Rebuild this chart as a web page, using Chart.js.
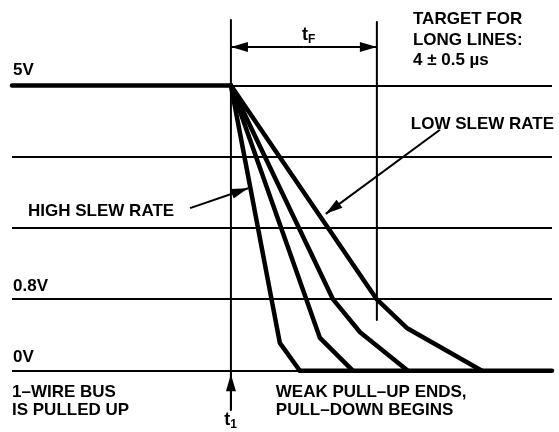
<!DOCTYPE html>
<html>
<head>
<meta charset="utf-8">
<script src="https://cdn.jsdelivr.net/npm/chart.js@4/dist/chart.umd.min.js"></script>
<style>
body { margin: 0; background: #fff; }
</style>
</head>
<body>
<canvas id="myChart" width="559" height="432"></canvas>
<script>
// x: time in us from t1, y: grid steps (0 = 0V line, 1 = 0.8V line, 4 = 5V line)
var levels = [0, 1, 2, 3, 4];

var pullUpX = [-6, 0];
var pullUpY = [4, 4];

var fall1X = [0, 1.34, 1.89];
var fall1Y = [4, 0.39, 0];
var fall2X = [0, 2.44, 3.34];
var fall2Y = [4, 0.46, 0];
var fall3X = [0, 2.80, 3.54, 4.85];
var fall3Y = [4, 1, 0.54, 0];
var fall4X = [0, 4.0, 4.82, 6.88];
var fall4Y = [4, 1, 0.60, 0];

var lowX = [1.89, 8.8];
var lowY = [0, 0];

var t1X = [0, 0];
var t1Y = [4.92, -0.55];
var tFX = [4, 4];
var tFY = [4.89, 0.71];

// arrows: [fromX, fromY, toX, toY]
var arrows = [
  [-1.12, 2.28, 0.47, 2.56],
  [5.73, 3.38, 2.60, 2.20],
  [2, 4.54, 0, 4.54],
  [2, 4.54, 4, 4.54],
  [0, -0.55, 0, -0.05]
];

// text: [label, x, y]
var texts = [
  ['5V', -5.97, 4.22],
  ['0.8V', -5.97, 1.19],
  ['0V', -5.97, 0.19],
  ['HIGH SLEW RATE', -5.56, 2.24],
  ['LOW SLEW RATE', 4.93, 3.45],
  ['TARGET FOR', 4.99, 4.93],
  ['LONG LINES:', 4.99, 4.64],
  ['4 \u00b1 0.5 \u00b5s', 4.99, 4.36],
  ['1\u2013WIRE BUS', -6.0, -0.30],
  ['IS PULLED UP', -6.0, -0.55],
  ['WEAK PULL\u2013UP ENDS,', 1.23, -0.30],
  ['PULL\u2013DOWN BEGINS', 1.23, -0.55]
];
// subscripted labels: [main, sub, x, y]
var subTexts = [
  ['t', 'F', 1.95, 4.71],
  ['t', '1', -0.18, -0.69]
];

function pts(xs, ys) {
  return xs.map(function (x, i) { return { x: x, y: ys[i] }; });
}

function line(xs, ys, w) {
  return {
    data: pts(xs, ys),
    borderColor: '#000',
    borderWidth: w,
    pointRadius: 0,
    tension: 0,
    fill: false,
    clip: false,
    borderJoinStyle: 'round',
    borderCapStyle: 'round'
  };
}

var notes = {
  id: 'notes',
  afterDatasetsDraw: function (chart) {
    var c = chart.ctx, xs = chart.scales.x, ys = chart.scales.y;
    c.save();
    c.fillStyle = '#000';
    c.strokeStyle = '#000';
    c.lineWidth = 2;
    arrows.forEach(function (a) {
      var x0 = xs.getPixelForValue(a[0]), y0 = ys.getPixelForValue(a[1]);
      var x1 = xs.getPixelForValue(a[2]), y1 = ys.getPixelForValue(a[3]);
      var ang = Math.atan2(y1 - y0, x1 - x0);
      var len = 17, half = 5;
      c.beginPath();
      c.moveTo(x0, y0);
      c.lineTo(x1, y1);
      c.stroke();
      c.beginPath();
      c.moveTo(x1, y1);
      c.lineTo(x1 - len * Math.cos(ang) + half * Math.sin(ang), y1 - len * Math.sin(ang) - half * Math.cos(ang));
      c.lineTo(x1 - len * Math.cos(ang) - half * Math.sin(ang), y1 - len * Math.sin(ang) + half * Math.cos(ang));
      c.closePath();
      c.fill();
    });
    c.textBaseline = 'middle';
    c.font = 'bold 17px "Liberation Sans", Arial, sans-serif';
    texts.forEach(function (t) {
      c.fillText(t[0], xs.getPixelForValue(t[1]), ys.getPixelForValue(t[2]));
    });
    subTexts.forEach(function (t) {
      var x = xs.getPixelForValue(t[2]), y = ys.getPixelForValue(t[3]);
      c.font = 'bold 18px "Liberation Sans", Arial, sans-serif';
      c.fillText(t[0], x, y);
      var w = c.measureText(t[0]).width;
      c.font = 'bold 12px "Liberation Sans", Arial, sans-serif';
      c.fillText(t[1], x + w, y + 5);
    });
    c.restore();
  }
};

var chart = new Chart(document.getElementById('myChart'), {
  type: 'line',
  data: {
    datasets: [
      line(pullUpX, pullUpY, 4.5),
      line(fall1X, fall1Y, 4.5),
      line(fall2X, fall2Y, 4.5),
      line(fall3X, fall3Y, 4.5),
      line(fall4X, fall4Y, 4.5),
      line(lowX, lowY, 4.5),
      line(t1X, t1Y, 2),
      line(tFX, tFY, 2)
    ]
  },
  options: {
    responsive: false,
    animation: false,
    layout: { padding: { left: 12, right: 7, top: 0, bottom: 0 } },
    plugins: { legend: { display: false }, tooltip: { enabled: false } },
    scales: {
      x: { type: 'linear', min: -6, max: 8.8, display: false },
      y: {
        type: 'linear',
        min: -0.86,
        max: 5.2,
        afterBuildTicks: function (scale) {
          scale.ticks = levels.map(function (v) { return { value: v }; });
        },
        ticks: { display: false },
        border: { display: false },
        grid: { color: '#000', lineWidth: 2, drawTicks: false }
      }
    }
  },
  plugins: [notes]
});
</script>
</body>
</html>
